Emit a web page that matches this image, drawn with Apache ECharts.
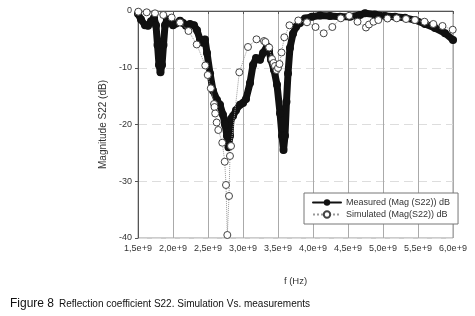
<!DOCTYPE html>
<html>
<head>
<meta charset="utf-8">
<script src="https://cdn.jsdelivr.net/npm/echarts@6/dist/echarts.min.js"></script>
<style>
  html, body { margin: 0; padding: 0; background: #fff; }
  #chart { width: 475px; height: 316px; }
</style>
</head>
<body>
<div id="chart"></div>
<script>
// frequencies in GHz (axis labels show them as e+9), magnitudes in dB
var measFreq = [1.50, 1.543, 1.60, 1.643, 1.686, 1.729, 1.757, 1.779, 1.80, 1.821, 1.843, 1.864, 1.886, 1.914,
    1.957, 2.0, 2.043, 2.10, 2.143, 2.186, 2.243, 2.30, 2.343, 2.386, 2.429, 2.457, 2.486, 2.529, 2.571,
    2.629, 2.671, 2.714, 2.743, 2.771, 2.793, 2.814, 2.829, 2.857, 2.90, 2.957, 3.0, 3.043, 3.10, 3.143,
    3.186, 3.243, 3.286, 3.343, 3.371, 3.40, 3.443, 3.486, 3.529, 3.557, 3.579, 3.60, 3.621, 3.643,
    3.671, 3.714, 3.757, 3.814, 3.886, 3.986, 4.10, 4.243, 4.386, 4.529, 4.671, 4.743, 4.886, 5.029,
    5.171, 5.314, 5.457, 5.60, 5.743, 5.886, 6.0];
var measDb = [-0.5, -1.5, -2.5, -2.6, -1.8, -1.2, -2.5, -6, -9.5, -10.8, -9.5, -6, -2.5, -1.5,
    -2.0, -2.5, -2.2, -1.7, -2.1, -2.6, -2.3, -2.5, -3.4, -5.0, -5.6, -5.0, -7.4, -11, -14,
    -15.7, -16.5, -18.3, -20, -22, -24, -22, -19, -18.5, -17.5, -16.5, -16.2, -15.5, -12.7, -9.5,
    -8.3, -8.6, -7.4, -6.2, -7.0, -8.6, -10.4, -13, -18, -22, -24.5, -22, -16, -11,
    -6.5, -4, -2.8, -2.1, -1.3, -1.0, -0.8, -0.9, -1.0, -1.0, -0.7, -0.4, -0.6, -0.9,
    -1.0, -1.2, -1.6, -2.3, -3.0, -3.9, -5.1];

var simFreq = [1.504, 1.624, 1.743, 1.861, 1.981, 2.10, 2.221, 2.339, 2.461, 2.496, 2.54, 2.586, 2.593,
    2.603, 2.624, 2.647, 2.704, 2.739, 2.757, 2.776, 2.80, 2.814, 2.829, 2.947, 3.071, 3.193, 3.30,
    3.32, 3.374, 3.414, 3.436, 3.457, 3.479, 3.50, 3.521, 3.55, 3.59, 3.664, 3.79, 3.914, 4.036,
    4.153, 4.276, 4.397, 4.517, 4.636, 4.757, 4.80, 4.864, 4.933, 5.064, 5.196, 5.329, 5.457,
    5.593, 5.719, 5.85, 5.996];
var simDb = [-0.12, -0.23, -0.41, -0.70, -1.15, -2.03, -3.52, -5.90, -9.60, -11.28, -13.62, -16.39, -16.92,
    -18.06, -19.65, -20.97, -23.21, -26.56, -30.66, -39.47, -32.6, -25.55, -23.79, -10.80, -6.34, -4.99, -5.29,
    -5.46, -6.43, -8.46, -9.16, -9.69, -10.40, -10.04, -9.34, -7.31, -4.63, -2.52, -1.67, -1.99, -2.82,
    -3.93, -2.82, -1.29, -0.85, -1.89, -2.91, -2.38, -1.89, -1.59, -1.32, -1.29, -1.41, -1.59,
    -1.89, -2.29, -2.64, -3.30];

var seriesNames = ['Measured (Mag (S22)) dB', 'Simulated (Mag(S22)) dB'];
var yTicks = [-40, -30, -20, -10, 0];

function zip(a, b) {
    var out = [];
    for (var i = 0; i < a.length; i++) out.push([a[i], b[i]]);
    return out;
}

var font = '"Liberation Sans", Arial, sans-serif';

var option = {
    animation: false,
    backgroundColor: '#fff',
    textStyle: { fontFamily: font },
    title: {
        left: 5,
        top: 290,
        text: '{a|Figure 8} {b|Reflection coefficient S22. Simulation Vs. measurements}',
        textStyle: {
            fontWeight: 'normal',
            rich: {
                a: { fontFamily: font, fontSize: 12, fontWeight: 'normal', color: '#111' },
                b: { fontFamily: font, fontSize: 10, fontWeight: 'normal', color: '#111' }
            }
        }
    },
    grid: {
        left: 138, right: 22, top: 11, bottom: 78,
        show: true, borderColor: '#999', borderWidth: 1
    },
    legend: {
        orient: 'vertical',
        left: 304, top: 193,
        padding: [5, 8, 5, 8],
        itemGap: 3,
        itemWidth: 28, itemHeight: 8,
        backgroundColor: '#fff',
        borderColor: '#777', borderWidth: 1,
        textStyle: { fontFamily: font, fontSize: 9, color: '#333' },
        data: seriesNames
    },
    xAxis: {
        type: 'value',
        min: 1.5, max: 6, interval: 0.5,
        name: 'f (Hz)',
        nameLocation: 'middle',
        nameGap: 38,
        nameTextStyle: { fontFamily: font, fontSize: 9.5, color: '#333' },
        axisLine: { lineStyle: { color: '#555' } },
        axisTick: { show: true, length: 3, lineStyle: { color: '#555' } },
        axisLabel: {
            fontFamily: font, fontSize: 9, color: '#333', margin: 6,
            formatter: function (v) { return v.toFixed(1).replace('.', ',') + 'e+9'; }
        },
        splitLine: { show: true, lineStyle: { color: '#aaa', width: 1 } }
    },
    yAxis: {
        type: 'value',
        min: yTicks[0], max: yTicks[yTicks.length - 1], interval: 10,
        name: 'Magnitude S22 (dB)',
        nameLocation: 'middle',
        nameGap: 28,
        nameTextStyle: { fontFamily: font, fontSize: 10, color: '#333' },
        axisLine: { show: true, lineStyle: { color: '#555' } },
        axisTick: { show: true, length: 3, lineStyle: { color: '#555' } },
        axisLabel: { fontFamily: font, fontSize: 9, color: '#333', margin: 6 },
        splitLine: { show: true, lineStyle: { color: '#ddd', type: [9, 5], width: 1 } }
    },
    series: [{
        name: seriesNames[0],
        type: 'line',
        data: zip(measFreq, measDb),
        symbol: 'circle',
        symbolSize: 8,
        itemStyle: { color: '#111' },
        lineStyle: { color: '#111', width: 7, cap: 'round', join: 'round' },
        z: 2
    }, {
        name: seriesNames[1],
        type: 'line',
        data: zip(simFreq, simDb),
        symbol: 'circle',
        symbolSize: 7,
        itemStyle: { color: '#fff', borderColor: '#444', borderWidth: 1 },
        lineStyle: { color: '#999', width: 1, type: 'dotted' },
        z: 3
    }]
};

var myChart = echarts.init(document.getElementById('chart'));
myChart.setOption(option, true);
</script>
</body>
</html>
